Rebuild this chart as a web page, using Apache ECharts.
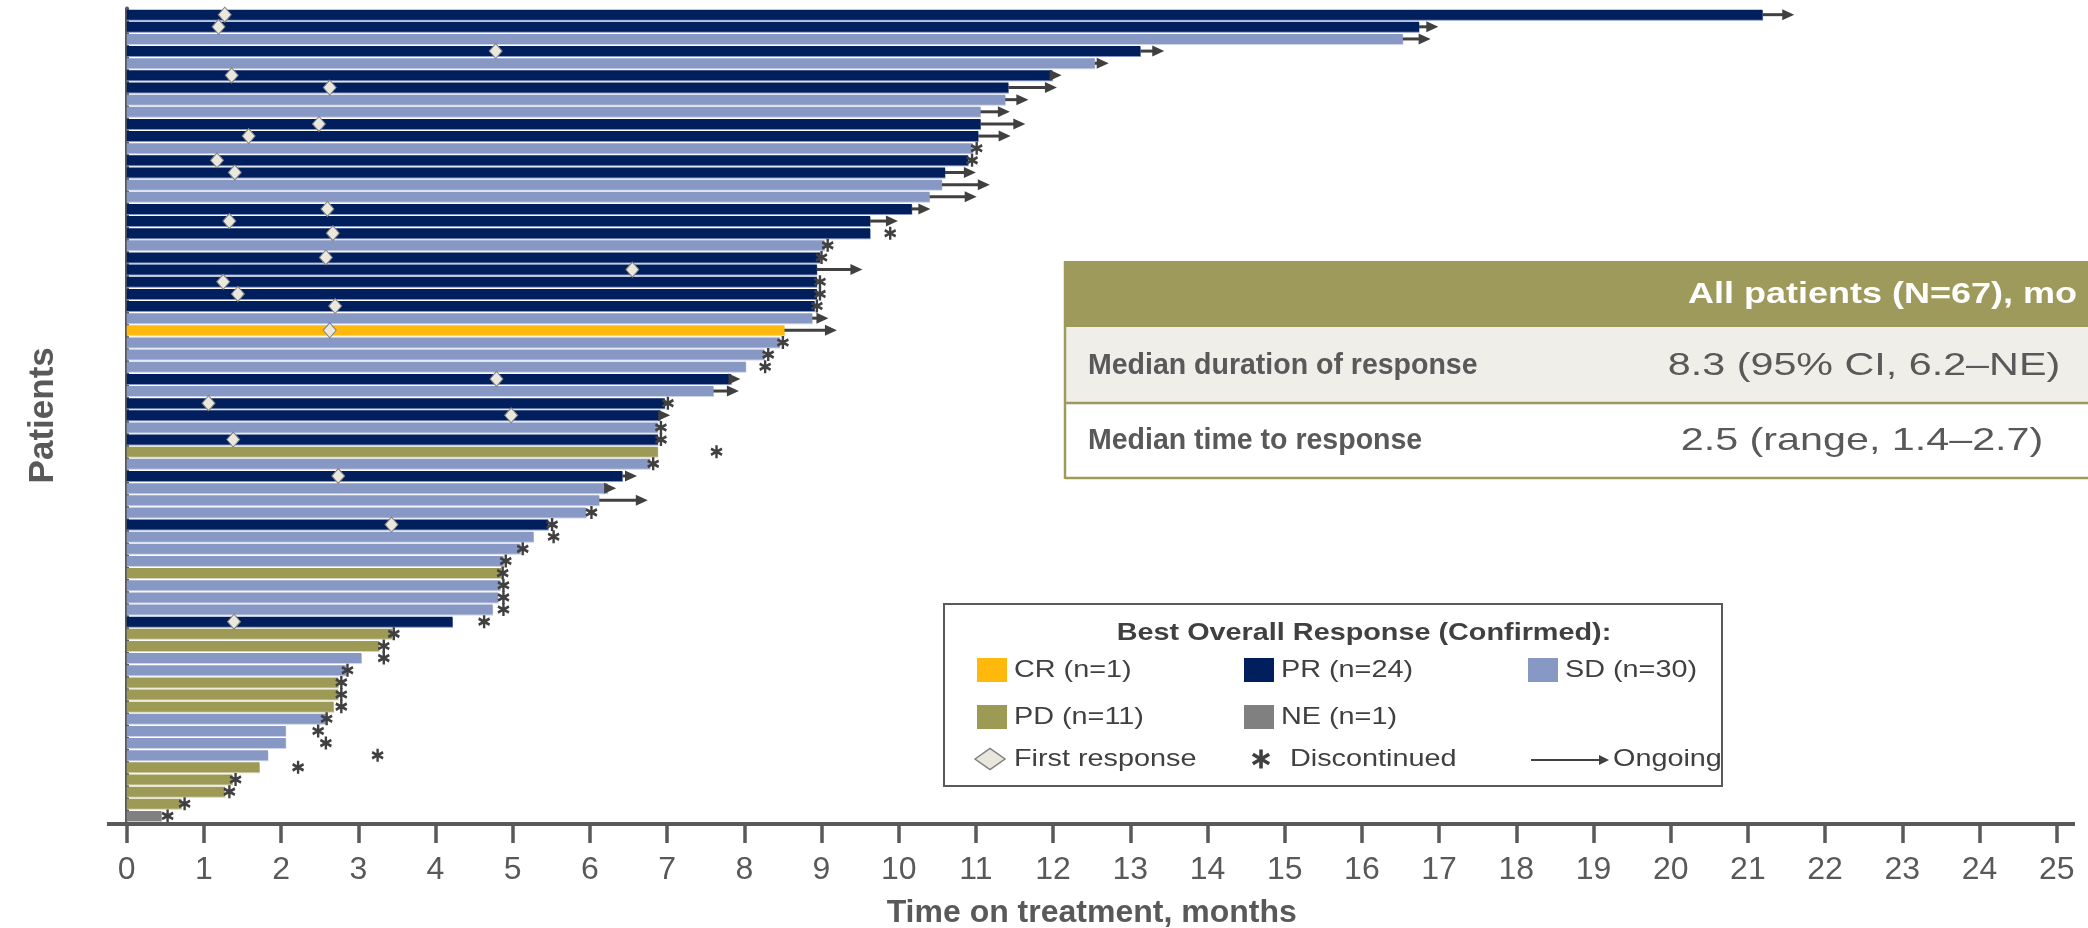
<!DOCTYPE html>
<html>
<head>
<meta charset="utf-8">
<title>Swimmer plot – time on treatment</title>
<script src="https://cdn.jsdelivr.net/npm/echarts@6/dist/echarts.min.js"></script>
<style>
  html, body { margin: 0; padding: 0; background: #ffffff; }
  #chart { width: 2088px; height: 928px; }
</style>
</head>
<body>
<div id="chart"></div>
<script>
// ---- Data: one entry per patient, listed from top to bottom ----
const responses = [
  'PR','PR','SD','PR','SD','PR','PR','SD','SD','PR',
  'PR','SD','PR','PR','SD','SD','PR','PR','PR','SD',
  'PR','PR','PR','PR','PR','SD','CR','SD','SD','SD',
  'PR','SD','PR','PR','SD','PR','PD','SD','PR','SD',
  'SD','SD','PR','SD','SD','SD','PD','SD','SD','SD',
  'PR','PD','PD','SD','SD','PD','PD','PD','SD','SD',
  'SD','SD','PD','PD','PD','PD','NE'
];

// Time on treatment, months
const months = [
  21.19, 16.74, 16.53, 13.13, 12.54, 11.99, 11.42, 11.38, 11.06, 11.06,
  11.03, 10.96, 10.90, 10.60, 10.56, 10.40, 10.17, 9.63, 9.63, 9.04,
  8.98, 8.94, 8.94, 8.94, 8.91, 8.88, 8.52, 8.46, 8.26, 8.02,
  7.83, 7.60, 6.97, 6.91, 6.88, 6.88, 6.88, 6.78, 6.42, 6.23,
  6.12, 5.95, 5.46, 5.27, 5.10, 4.88, 4.85, 4.84, 4.81, 4.74,
  4.22, 3.44, 3.27, 3.04, 2.84, 2.74, 2.74, 2.68, 2.58, 2.06,
  2.06, 1.83, 1.72, 1.37, 1.27, 0.71, 0.45
];

// Month of first response (null = no response)
const firstResponse = [
  1.27, 1.19, null, 4.78, null, 1.36, 2.63, null, null, 2.49,
  1.58, null, 1.17, 1.40, null, null, 2.60, 1.33, 2.67, null,
  2.58, 6.55, 1.25, 1.44, 2.70, null, 2.63, null, null, null,
  4.79, null, 1.06, 4.98, null, 1.38, null, null, 2.74, null,
  null, null, 3.43, null, null, null, null, null, null, null,
  1.39, null, null, null, null, null, null, null, null, null,
  null, null, null, null, null, null, null
];

// Month at which treatment was discontinued (null = still on treatment)
const discontinued = [
  null, null, null, null, null, null, null, null, null, null,
  null, 11.01, 10.95, null, null, null, null, null, 9.89, 9.08,
  9.00, null, 8.98, 8.98, 8.94, null, null, 8.50, 8.31, 8.27,
  null, null, 7.01, null, 6.92, 6.92, 7.64, 6.82, null, null,
  null, 6.02, 5.51, 5.53, 5.13, 4.91, 4.87, 4.88, 4.88, 4.88,
  4.63, 3.46, 3.33, 3.33, 2.86, 2.78, 2.78, 2.78, 2.59, 2.48,
  2.58, 3.25, 2.22, 1.41, 1.33, 0.75, 0.53
];

// Ongoing treatment: arrow reaches this month (null = not ongoing)
const ongoingTo = [
  21.60, 16.99, 16.89, 13.44, 12.72, 12.11, 12.05, 11.68, 11.44, 11.64,
  11.45, null, null, 11.00, 11.18, 11.01, 10.41, 9.99, null, null,
  null, 9.53, null, null, null, 9.09, 9.20, null, null, null,
  7.95, 7.93, null, 7.04, null, null, null, null, 6.61, 6.34,
  6.75, null, null, null, null, null, null, null, null, null,
  null, null, null, null, null, null, null, null, null, null,
  null, null, null, null, null, null, null
];

const responseGroups = [
  { code: 'CR', label: 'CR (n=1)' },
  { code: 'PR', label: 'PR (n=24)' },
  { code: 'SD', label: 'SD (n=30)' },
  { code: 'PD', label: 'PD (n=11)' },
  { code: 'NE', label: 'NE (n=1)' }
];

const summaryHeader = 'All patients (N=67), mo';
const summaryRows = [
  ['Median duration of response', '8.3 (95% CI, 6.2\u2013NE)'],
  ['Median time to response', '2.5 (range, 1.4\u20132.7)']
];

const xTitle = 'Time on treatment, months';
const yTitle = 'Patients';
const legendTitle = 'Best Overall Response (Confirmed):';

// ---- Styling ----
const FONT = "'Liberation Sans', Arial, Helvetica, sans-serif";
const groupColor = { CR: '#FFB80C', PR: '#001F5C', SD: '#8898C4', PD: '#9D9A56', NE: '#808080' };
const groupEdge  = { CR: '#FFE08A', PR: '#8898C4', SD: '#CDD3E8', PD: '#D8D6B8', NE: '#C8C8C8' };
const AXIS_GREY = '#595959';
const MARK_GREY = '#404040';
const OLIVE = '#9E9A5C';
const TEXT_STRETCH = 1.2;

const patients = months.map((_, i) => 'Patient ' + (i + 1));

// ---- Series ----
const barSeries = responseGroups.map(g => ({
  type: 'bar',
  name: g.label,
  barWidth: 10,
  barGap: '-100%',
  itemStyle: {
    color: groupColor[g.code],
    shadowColor: groupEdge[g.code], shadowBlur: 0, shadowOffsetY: 1, shadowOffsetX: 0.5
  },
  data: months.map((m, i) => (responses[i] === g.code ? m : '-')),
  silent: true,
  z: 2
}));

const arrowSeries = {
  type: 'custom',
  name: 'Ongoing',
  silent: true,
  z: 3,
  encode: { x: [0, 1], y: 2 },
  data: ongoingTo
    .map((to, i) => (to == null ? null : [months[i], to, patients[i]]))
    .filter(d => d),
  renderItem: (params, api) => {
    const s = api.coord([api.value(0), api.value(2)]);
    const e = api.coord([api.value(1), api.value(2)]);
    const head = 12, half = 5.5;
    return {
      type: 'group',
      children: [
        { type: 'line', shape: { x1: s[0], y1: s[1], x2: e[0] - head + 1, y2: e[1] },
          style: { stroke: MARK_GREY, lineWidth: 3 } },
        { type: 'polygon', shape: { points: [[e[0] - head, e[1] - half], [e[0], e[1]], [e[0] - head, e[1] + half]] },
          style: { fill: MARK_GREY } }
      ]
    };
  }
};

const ASTERISK = 'path://M5,0L5,12M0.3,3.2L9.7,8.8M0.3,8.8L9.7,3.2';

const diamondSeries = {
  type: 'scatter',
  name: 'First response',
  symbol: 'diamond',
  symbolSize: [13, 15],
  itemStyle: { color: '#EAE8DC', borderColor: '#7F7F7F', borderWidth: 1, opacity: 1 },
  data: firstResponse.map((v, i) => (v == null ? null : [v, patients[i]])).filter(d => d),
  silent: true,
  z: 5
};

const asteriskSeries = {
  type: 'scatter',
  name: 'Discontinued',
  symbol: ASTERISK,
  symbolSize: [11, 13],
  itemStyle: { color: MARK_GREY, borderColor: MARK_GREY, borderWidth: 2.6, opacity: 1 },
  data: discontinued.map((v, i) => (v == null ? null : [v, patients[i]])).filter(d => d),
  silent: true,
  z: 4
};

// ---- Overlays: summary table and legend box ----
function stretchedText(str, x, y, o) {
  return {
    type: 'text', x: x, y: y, scaleX: o.stretch || TEXT_STRETCH, silent: true,
    style: {
      text: str, x: 0, y: 0,
      fontFamily: FONT, fontSize: o.size, fontWeight: o.bold ? 'bold' : 'normal',
      fill: o.color, align: o.align || 'left', verticalAlign: 'middle'
    }
  };
}

function strokeLine(x1, y1, x2, y2, width) {
  return { type: 'line', silent: true, shape: { x1: x1, y1: y1, x2: x2, y2: y2 },
    style: { stroke: MARK_GREY, lineWidth: width } };
}

const tableLeft = 1065, tableRight = 2090;
const tableGraphics = [
  { type: 'rect', shape: { x: tableLeft, y: 261, width: tableRight - tableLeft, height: 66 }, style: { fill: OLIVE } },
  { type: 'rect', shape: { x: tableLeft, y: 327, width: tableRight - tableLeft, height: 76 }, style: { fill: '#EFEEE9' } },
  { type: 'rect', shape: { x: tableLeft, y: 403, width: tableRight - tableLeft, height: 75 }, style: { fill: '#FFFFFF' } },
  { type: 'line', shape: { x1: tableLeft, y1: 403, x2: tableRight, y2: 403 }, style: { stroke: OLIVE, lineWidth: 2.5 } },
  { type: 'line', shape: { x1: tableLeft, y1: 478, x2: tableRight, y2: 478 }, style: { stroke: OLIVE, lineWidth: 2.5 } },
  { type: 'line', shape: { x1: tableLeft, y1: 261, x2: tableLeft, y2: 479 }, style: { stroke: OLIVE, lineWidth: 2.5 } },
  stretchedText(summaryHeader, 2077, 295, { size: 30, bold: true, color: '#FFFFFF', align: 'right' }),
  stretchedText(summaryRows[0][0], 1088, 366, { size: 30, bold: true, color: AXIS_GREY, stretch: 0.95 }),
  stretchedText(summaryRows[0][1], 1864, 366, { size: 32, color: AXIS_GREY, align: 'center', stretch: 1.29 }),
  stretchedText(summaryRows[1][0], 1088, 441, { size: 30, bold: true, color: AXIS_GREY, stretch: 0.95 }),
  stretchedText(summaryRows[1][1], 1862, 441, { size: 32, color: AXIS_GREY, align: 'center', stretch: 1.29 })
];

const legendCols = [977, 1244, 1528];
const legendRows = [670, 717, 759];
const legendGraphics = [
  { type: 'rect', shape: { x: 944, y: 604, width: 778, height: 182 },
    style: { fill: '#FFFFFF', stroke: AXIS_GREY, lineWidth: 2 } },
  stretchedText(legendTitle, 1364, 633, { size: 24, bold: true, color: MARK_GREY, align: 'center' })
];
responseGroups.forEach((g, k) => {
  const col = k < 3 ? k : k - 3;
  const row = k < 3 ? 0 : 1;
  const x = legendCols[col], y = legendRows[row];
  legendGraphics.push({ type: 'rect', shape: { x: x, y: y - 12, width: 30, height: 24 },
    style: { fill: groupColor[g.code] } });
  legendGraphics.push(stretchedText(g.label, x + 37, y, { size: 24, color: MARK_GREY }));
});
// marker keys
const ry = legendRows[2];
const ax = 1261;
legendGraphics.push(
  { type: 'polygon', shape: { points: [[975, ry], [990, ry - 10.5], [1005, ry], [990, ry + 10.5]] },
    style: { fill: '#E9E7DB', stroke: '#7F7F7F', lineWidth: 1.5 } },
  stretchedText('First response', 1014, ry, { size: 24, color: MARK_GREY }),
  strokeLine(ax, ry - 9.5, ax, ry + 9.5, 3.6),
  strokeLine(ax - 8.2, ry - 4.8, ax + 8.2, ry + 4.8, 3.6),
  strokeLine(ax - 8.2, ry + 4.8, ax + 8.2, ry - 4.8, 3.6),
  stretchedText('Discontinued', 1290, ry, { size: 24, color: MARK_GREY }),
  strokeLine(1531, ry + 1, 1600, ry + 1, 2),
  { type: 'polygon', shape: { points: [[1599, ry - 4], [1609, ry + 1], [1599, ry + 6]] }, style: { fill: MARK_GREY } },
  stretchedText('Ongoing', 1613, ry, { size: 24, color: MARK_GREY })
);

// Horizontal axis rule, running slightly past both ends of the scale
const axisRule = { type: 'rect', shape: { x: 107, y: 822, width: 1968, height: 4 }, style: { fill: AXIS_GREY }, z: 10 };

const option = {
  animation: false,
  backgroundColor: '#FFFFFF',
  textStyle: { fontFamily: FONT },
  grid: {
    left: 126.7, right: 31.3, top: 8.6, bottom: 106,
    containLabel: false, outerBoundsMode: 'none'
  },
  xAxis: {
    type: 'value',
    min: 0, max: 25, interval: 1,
    axisLine: { show: false },
    axisTick: { show: true, length: 21, lineStyle: { color: AXIS_GREY, width: 3.5 } },
    axisLabel: { fontSize: 32, color: AXIS_GREY, margin: 32, fontFamily: FONT },
    splitLine: { show: false },
    name: xTitle,
    nameLocation: 'middle',
    nameGap: 75,
    nameTextStyle: { fontSize: 32, fontWeight: 'bold', color: AXIS_GREY, fontFamily: FONT }
  },
  yAxis: {
    type: 'category',
    data: patients,
    inverse: true,
    axisLine: { show: true, lineStyle: { color: AXIS_GREY, width: 4 } },
    axisTick: { show: false },
    axisLabel: { show: false },
    splitLine: { show: false },
    name: yTitle,
    nameLocation: 'middle',
    nameRotate: 90,
    nameGap: 66,
    nameTextStyle: { fontSize: 35, fontWeight: 'bold', color: AXIS_GREY, fontFamily: FONT }
  },
  series: [...barSeries, arrowSeries, asteriskSeries, diamondSeries],
  graphic: { elements: [axisRule, ...tableGraphics, ...legendGraphics] }
};

const chart = echarts.init(document.getElementById('chart'), null, { renderer: 'canvas' });
chart.setOption(option);
</script>
</body>
</html>
